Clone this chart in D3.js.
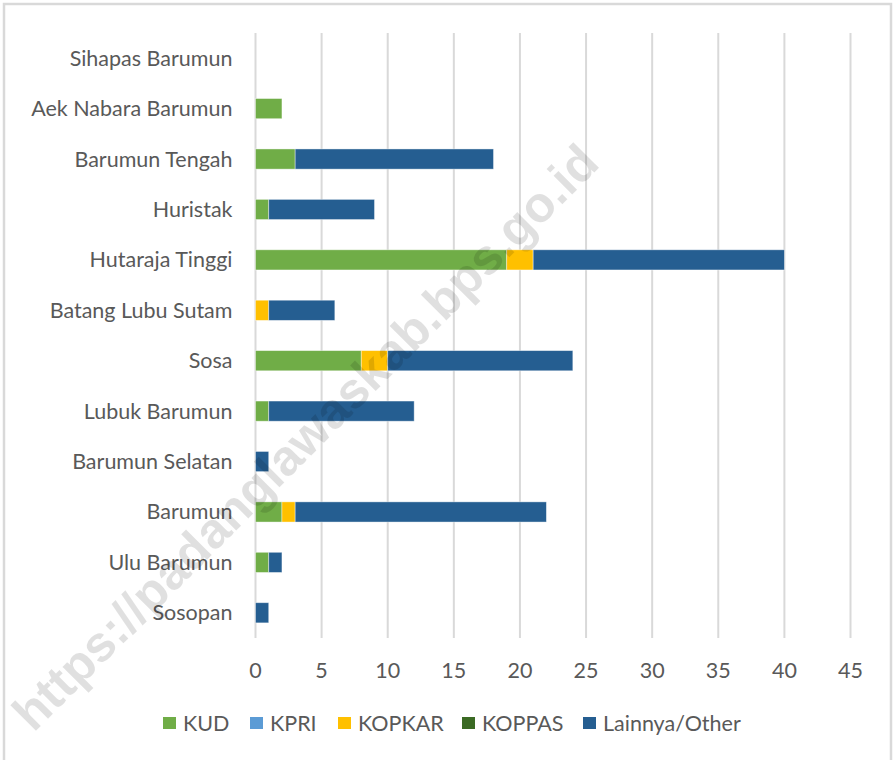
<!DOCTYPE html>
<html>
<head>
<meta charset="utf-8">
<script src="https://cdn.jsdelivr.net/npm/d3@7"></script>
<style>
  body { margin:0; background:#fff; }
  svg { display:block; font-family: Lato, "Open Sans", sans-serif; }
</style>
</head>
<body>
<svg id="chart" width="894" height="760"></svg>
<script>
// --- data (top to bottom as shown) -------------------------------------------
const districts = ['Sihapas Barumun','Aek Nabara Barumun','Barumun Tengah','Huristak',
  'Hutaraja Tinggi','Batang Lubu Sutam','Sosa','Lubuk Barumun','Barumun Selatan',
  'Barumun','Ulu Barumun','Sosopan'];
const seriesNames = ['KUD','KPRI','KOPKAR','KOPPAS','Lainnya/Other'];
const kud    = [0, 2, 3, 1, 19, 0, 8, 1, 0, 2, 1, 0];
const kpri   = [0, 0, 0, 0,  0, 0, 0, 0, 0, 0, 0, 0];
const kopkar = [0, 0, 0, 0,  2, 1, 2, 0, 0, 1, 0, 0];
const koppas = [0, 0, 0, 0,  0, 0, 0, 0, 0, 0, 0, 0];
const other  = [0, 0, 15, 8, 19, 5, 14, 11, 1, 19, 1, 1];
const xTicks = [0,5,10,15,20,25,30,35,40,45];

const colors = ['#70AD47','#5B9BD5','#FFC000','#3B6A24','#255E91'];

// --- layout --------------------------------------------------------------
const W = 894, H = 760;
const m = {left:255.5, right:43.5, top:33, bottom:122};
const FS = 21.5;
const svg = d3.select('#chart');

// frame
svg.append('rect').attr('x',4).attr('y',4).attr('width',W-7).attr('height',H+10)
   .attr('fill','none').attr('stroke','#d9d9d9').attr('stroke-width',2.5);

const rows = districts.map((d,i)=>({district:d, KUD:kud[i], KPRI:kpri[i],
  KOPKAR:kopkar[i], KOPPAS:koppas[i], 'Lainnya/Other':other[i]}));

const x = d3.scaleLinear().domain([0,45]).range([m.left, W-m.right]);
const y = d3.scaleBand().domain(districts).range([m.top, H-m.bottom]).paddingInner(0.6).paddingOuter(0.3);
const color = d3.scaleOrdinal(seriesNames, colors);

// gridlines
svg.append('g').selectAll('line').data(xTicks).join('line')
  .attr('x1',d=>x(d)).attr('x2',d=>x(d))
  .attr('y1',m.top).attr('y2',H-m.bottom)
  .attr('stroke','#d9d9d9').attr('stroke-width',2);

// bars
const stacked = d3.stack().keys(seriesNames)(rows);
svg.append('g').selectAll('g').data(stacked).join('g')
  .attr('fill',s=>color(s.key))
  .selectAll('rect').data(s=>s.filter(d=>d[1]>d[0])).join('rect')
    .attr('x',d=>x(d[0])).attr('width',d=>x(d[1])-x(d[0]))
    .attr('y',d=>y(d.data.district)).attr('height',y.bandwidth())
    .attr('stroke','#ffffff').attr('stroke-opacity',0.5).attr('stroke-width',0.8);

// category labels
svg.append('g').selectAll('text').data(districts).join('text')
  .attr('x',m.left-23).attr('y',d=>y(d)+y.bandwidth()/2)
  .attr('dy','0.35em').attr('text-anchor','end')
  .attr('font-size',FS).attr('fill','#595959').text(d=>d);

// x tick labels
svg.append('g').selectAll('text').data(xTicks).join('text')
  .attr('x',d=>x(d)).attr('y',670).attr('dy','0.35em')
  .attr('text-anchor','middle').attr('font-size',FS).attr('fill','#595959').text(d=>d);

// legend
const legX = [163, 250, 338, 462, 583];
const leg = svg.append('g').selectAll('g').data(seriesNames).join('g')
  .attr('transform',(d,i)=>`translate(${legX[i]},723)`);
leg.append('rect').attr('x',0).attr('y',-6).attr('width',13).attr('height',12).attr('fill',d=>color(d));
leg.append('text').attr('x',20).attr('dy','0.35em').attr('font-size',FS).attr('fill','#595959').text(d=>d);

// watermark
svg.append('text')
  .attr('transform','translate(305,437) rotate(-45)')
  .attr('text-anchor','middle').attr('dy','0.35em')
  .attr('font-family','"Liberation Sans", Arial, sans-serif')
  .attr('font-weight','bold').attr('font-size',50)
  .attr('fill','#000').attr('fill-opacity',0.12)
  .text('https://padanglawaskab.bps.go.id');
</script>
</body>
</html>
